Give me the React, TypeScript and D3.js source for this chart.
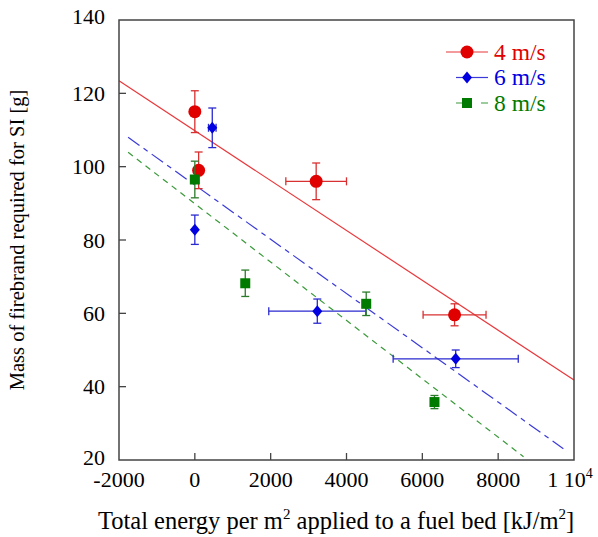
import React from "react";
import * as d3 from "d3";

// series: [energy, mass, xErr, yErr]
const red4 = [
  [0, 115, 0, 5.7],
  [100, 99, 0, 5],
  [3200, 96, 800, 5],
  [6850, 59.6, 830, 3],
];
const blue6 = [
  [460, 110.6, 100, 5.4],
  [0, 82.8, 0, 4],
  [3230, 60.6, 1280, 3.3],
  [6880, 47.6, 1650, 2.4],
];
const green8 = [
  [0, 96.5, 0, 5],
  [1330, 68.2, 0, 3.6],
  [4520, 62.6, 0, 3.2],
  [6320, 35.8, 0, 1.8],
];

// fit lines: range and slope/intercept
const fits = [
  { x0: -2000, x1: 10000, slope: -0.0068, b: 109.8, color: "#e8383b", dash: "" },
  { x0: -1760, x1: 9720, slope: -0.0074, b: 95.0, color: "#3a3ad8", dash: "14,5,5,5" },
  { x0: -1760, x1: 8670, slope: -0.00796, b: 89.9, color: "#3a9a3a", dash: "6,5" },
];

const xTicks = [-2000, 0, 2000, 4000, 6000, 8000];
const yTicks = [20, 40, 60, 80, 100, 120, 140];
const legendLabels = ["4 m/s", "6 m/s", "8 m/s"];

const W = 598;
const H = 537;
const m = { left: 119, right: 574, top: 20, bottom: 460 };
const font = "Liberation Serif, Times New Roman, DejaVu Serif, serif";

export default function App() {
  const x = d3.scaleLinear().domain([-2000, 10000]).range([m.left, m.right]);
  const y = d3.scaleLinear().domain([20, 140]).range([m.bottom, m.top]);

  const series = [
    { data: red4, color: "#e00000", bar: "#d83030", shape: "circle" },
    { data: blue6, color: "#0000e0", bar: "#2a2ad0", shape: "diamond" },
    { data: green8, color: "#007a00", bar: "#2a7a2a", shape: "square" },
  ];

  const marker = (shape: string, cx: number, cy: number, color: string, k: string) => {
    if (shape === "circle") return <circle key={k} cx={cx} cy={cy} r={6.5} fill={color} />;
    if (shape === "diamond")
      return (
        <path key={k} d={`M${cx},${cy - 6}L${cx + 5},${cy}L${cx},${cy + 6}L${cx - 5},${cy}Z`} fill={color} />
      );
    return <rect key={k} x={cx - 5} y={cy - 5} width={10} height={10} fill={color} />;
  };

  const cap = 4;

  return (
    <svg width={W} height={H} style={{ position: "absolute", left: 0, top: 0, fontFamily: font }}>
      <rect width={W} height={H} fill="white" />
      {/* fit lines */}
      {fits.map((f, i) => (
        <line
          key={i}
          x1={x(f.x0)}
          y1={y(f.b + f.slope * f.x0)}
          x2={x(f.x1)}
          y2={y(f.b + f.slope * f.x1)}
          stroke={f.color}
          strokeWidth={1.2}
          strokeDasharray={f.dash}
        />
      ))}
      {/* error bars and markers */}
      {series.map((s, si) => (
        <g key={si}>
          {s.data.map(([vx, vy, ex, ey], i) => {
            const cx = x(vx);
            const cy = y(vy);
            return (
              <g key={i} stroke={s.bar} strokeWidth={1.3}>
                <line x1={cx} x2={cx} y1={y(vy + ey)} y2={y(vy - ey)} />
                <line x1={cx - cap} x2={cx + cap} y1={y(vy + ey)} y2={y(vy + ey)} />
                <line x1={cx - cap} x2={cx + cap} y1={y(vy - ey)} y2={y(vy - ey)} />
                {ex > 0 && (
                  <>
                    <line x1={x(vx - ex)} x2={x(vx + ex)} y1={cy} y2={cy} />
                    <line x1={x(vx - ex)} x2={x(vx - ex)} y1={cy - cap} y2={cy + cap} />
                    <line x1={x(vx + ex)} x2={x(vx + ex)} y1={cy - cap} y2={cy + cap} />
                  </>
                )}
              </g>
            );
          })}
          {s.data.map(([vx, vy], i) => marker(s.shape, x(vx), y(vy), s.color, `m${i}`))}
        </g>
      ))}
      {/* frame */}
      <rect
        x={m.left}
        y={m.top}
        width={m.right - m.left}
        height={m.bottom - m.top}
        fill="none"
        stroke="#444"
        strokeWidth={1.5}
      />
      {/* ticks */}
      {yTicks.map((t) => (
        <g key={t}>
          {t > 20 && t < 140 && (
            <line x1={m.left} x2={m.left + 7} y1={y(t)} y2={y(t)} stroke="#444" strokeWidth={1.3} />
          )}
          <text x={m.left - 14} y={y(t) + (t === 140 ? -4 : t === 20 ? -3 : 0)} dy="0.35em" textAnchor="end" fontSize={22}>
            {t}
          </text>
        </g>
      ))}
      {xTicks.map((t) => (
        <g key={t}>
          {t > -2000 && (
            <line x1={x(t)} x2={x(t)} y1={m.bottom} y2={m.bottom - 7} stroke="#444" strokeWidth={1.3} />
          )}
          <text x={x(t)} y={m.bottom + 27} textAnchor="middle" fontSize={22}>
            {t}
          </text>
        </g>
      ))}
      <text x={x(10000) - 4} y={m.bottom + 27} textAnchor="middle" fontSize={22}>
        1 10<tspan dy="-9" fontSize={14}>4</tspan>
      </text>
      {/* axis titles */}
      <text x={98} y={529} fontSize={24.5}>
        Total energy per m<tspan dy="-10" fontSize={15}>2</tspan>
        <tspan dy="10"> applied to a fuel bed [kJ/m</tspan>
        <tspan dy="-10" fontSize={15}>2</tspan>
        <tspan dy="10">]</tspan>
      </text>
      <text transform={`translate(24,240) rotate(-90)`} textAnchor="middle" fontSize={20.5}>
        Mass of firebrand required for SI [g]
      </text>
      {/* legend */}
      {series.map((s, i) => {
        const ly = 52 + i * 25.5;
        const x0 = i === 0 ? 446 : 456;
        return (
          <g key={i}>
            <line
              x1={x0}
              x2={488}
              y1={ly}
              y2={ly}
              stroke={fits[i].color}
              strokeWidth={1.2}
              strokeDasharray={i === 2 ? "7,18,10" : ""}
            />
            {marker(s.shape, 467, ly, s.color, "lg")}
            <text x={494} y={ly} dy="0.33em" fontSize={23.5} fill={s.color}>
              {legendLabels[i]}
            </text>
          </g>
        );
      })}
    </svg>
  );
}
